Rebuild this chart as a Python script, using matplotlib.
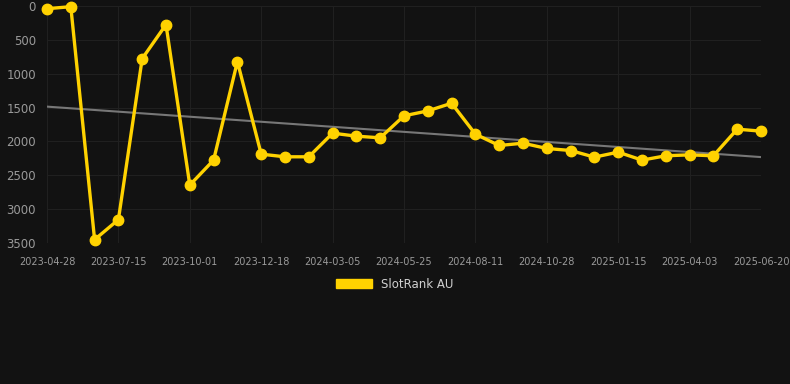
import numpy as np
import matplotlib.pyplot as plt

# SlotRank AU ranking history (lower rank number = better, axis inverted)
rank = [40, 10, 3450, 3155, 777, 275, 2645, 2276, 821, 2188, 2227, 2227,
        1878, 1922, 1947, 1622, 1549, 1436, 1893, 2060, 2026, 2104, 2134,
        2232, 2158, 2276, 2212, 2198, 2212, 1819, 1848]
tick_labels = ['2023-04-28', '2023-07-15', '2023-10-01', '2023-12-18',
               '2024-03-05', '2024-05-25', '2024-08-11', '2024-10-28',
               '2025-01-15', '2025-04-03', '2025-06-20']
y_ticks = [0, 500, 1000, 1500, 2000, 2500, 3000, 3500]

bg = '#121212'
yellow = '#FFD200'

x = np.arange(len(rank))
slope, icpt = np.polyfit(x, rank, 1)
trend = slope * x + icpt

fig = plt.figure(figsize=(7.9, 3.84), dpi=100, facecolor=bg)
ax = fig.add_axes([47 / 790, (384 - 243) / 384, (761 - 47) / 790, (243 - 6) / 384])
ax.set_facecolor(bg)

ax.plot(x, trend, color='#777777', lw=1.5, zorder=2)
ax.plot(x, rank, color=yellow, lw=2.4, marker='o', ms=7.5, clip_on=False, zorder=3)

ax.set_xlim(0, len(rank) - 1)
ax.set_ylim(3500, 0)
ax.set_yticks(y_ticks)
ax.set_xticks(x[::3])
ax.set_xticklabels(tick_labels)
ax.tick_params(axis='y', colors='#9a9a9a', labelsize=8.5, length=0, pad=8)
ax.tick_params(axis='x', colors='#9a9a9a', labelsize=7, length=0, pad=10)
ax.grid(True, color='#202020', lw=0.8)
for s in ax.spines.values():
    s.set_visible(False)

leg = fig.legend(handles=[plt.Rectangle((0, 0), 1, 1, color=yellow)], labels=['SlotRank AU'],
                 loc='center', bbox_to_anchor=(395 / 790, 1 - 284 / 384), frameon=False,
                 handlelength=3.0, handleheight=0.9, fontsize=8.5, labelcolor='#d0d0d0')

fig.savefig('out.png', dpi=100, facecolor=bg)
